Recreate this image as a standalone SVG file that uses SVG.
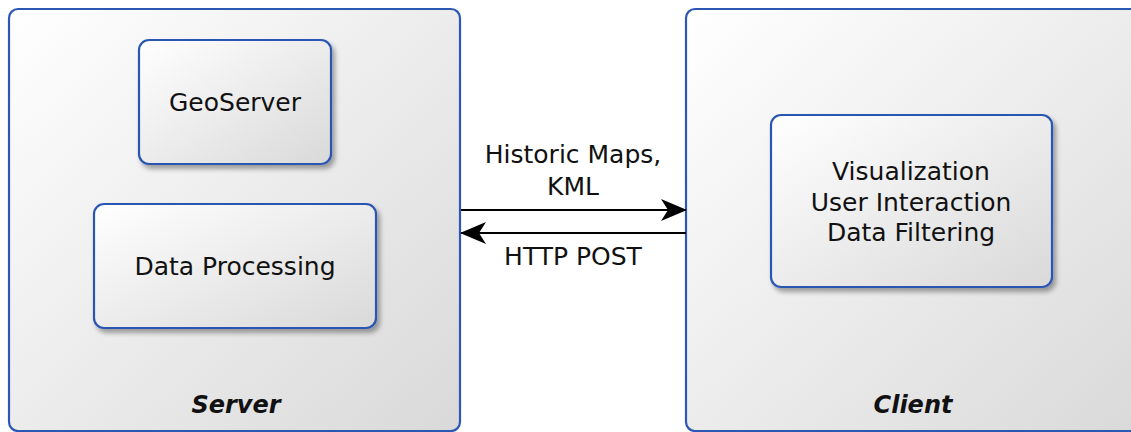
<svg xmlns="http://www.w3.org/2000/svg" width="1131" height="432" viewBox="0 0 1131 432">
  <defs>
    <linearGradient id="boxFill" x1="0" y1="0" x2="1" y2="1">
      <stop offset="0" stop-color="#ffffff"/>
      <stop offset="1" stop-color="#d9d9d9"/>
    </linearGradient>
    <filter id="shadow" x="-10%" y="-10%" width="125%" height="130%">
      <feGaussianBlur in="SourceAlpha" stdDeviation="2.5"/>
      <feOffset dx="3" dy="4" result="b"/>
      <feComponentTransfer><feFuncA type="linear" slope="0.35"/></feComponentTransfer>
      <feMerge><feMergeNode/><feMergeNode in="SourceGraphic"/></feMerge>
    </filter>
    <marker id="head" viewBox="0 0 26 22" refX="25" refY="11" markerWidth="26" markerHeight="22" markerUnits="userSpaceOnUse" orient="auto">
      <path d="M0,0 L26,11 L0,22 L7,11 Z" fill="#000"/>
    </marker>
  </defs>
  <style>
    .box { fill: url(#boxFill); stroke: #2c57b3; stroke-width: 2.2; }
    .label { font-family: "DejaVu Sans", sans-serif; font-size: 25px; fill: #111; text-anchor: middle; }
    .title { font-family: "DejaVu Sans", sans-serif; font-size: 24px; font-weight: bold; font-style: italic; fill: #111; text-anchor: middle; }
    .conn { stroke: #000; stroke-width: 2; fill: none; marker-end: url(#head); }
  </style>

  <rect width="1131" height="432" fill="#ffffff"/>

  <g id="server">
    <rect class="box" x="9" y="9" width="451" height="422" rx="9"/>
    <text class="title" x="236" y="413">Server</text>
  </g>

  <g id="client">
    <rect class="box" x="686" y="9" width="460" height="422" rx="9"/>
    <text class="title" x="913" y="413">Client</text>
  </g>

  <g id="geoserver">
    <rect class="box" x="139" y="40" width="192" height="124" rx="10" filter="url(#shadow)"/>
    <text class="label" x="235" y="111">GeoServer</text>
  </g>

  <g id="data-processing">
    <rect class="box" x="94" y="204" width="282" height="124" rx="10" filter="url(#shadow)"/>
    <text class="label" x="235" y="275">Data Processing</text>
  </g>

  <g id="client-functions">
    <rect class="box" x="771" y="115" width="281" height="172" rx="10" filter="url(#shadow)"/>
    <text class="label" x="911" y="180">Visualization</text>
    <text class="label" x="911" y="211">User Interaction</text>
    <text class="label" x="911" y="241">Data Filtering</text>
  </g>

  <g id="connectors">
    <line class="conn" x1="461" y1="210" x2="686" y2="210"/>
    <line class="conn" x1="686" y1="233" x2="461" y2="233"/>
    <text class="label" x="573" y="163">Historic Maps,</text>
    <text class="label" x="573" y="195">KML</text>
    <text class="label" x="573" y="265">HTTP POST</text>
  </g>
</svg>
